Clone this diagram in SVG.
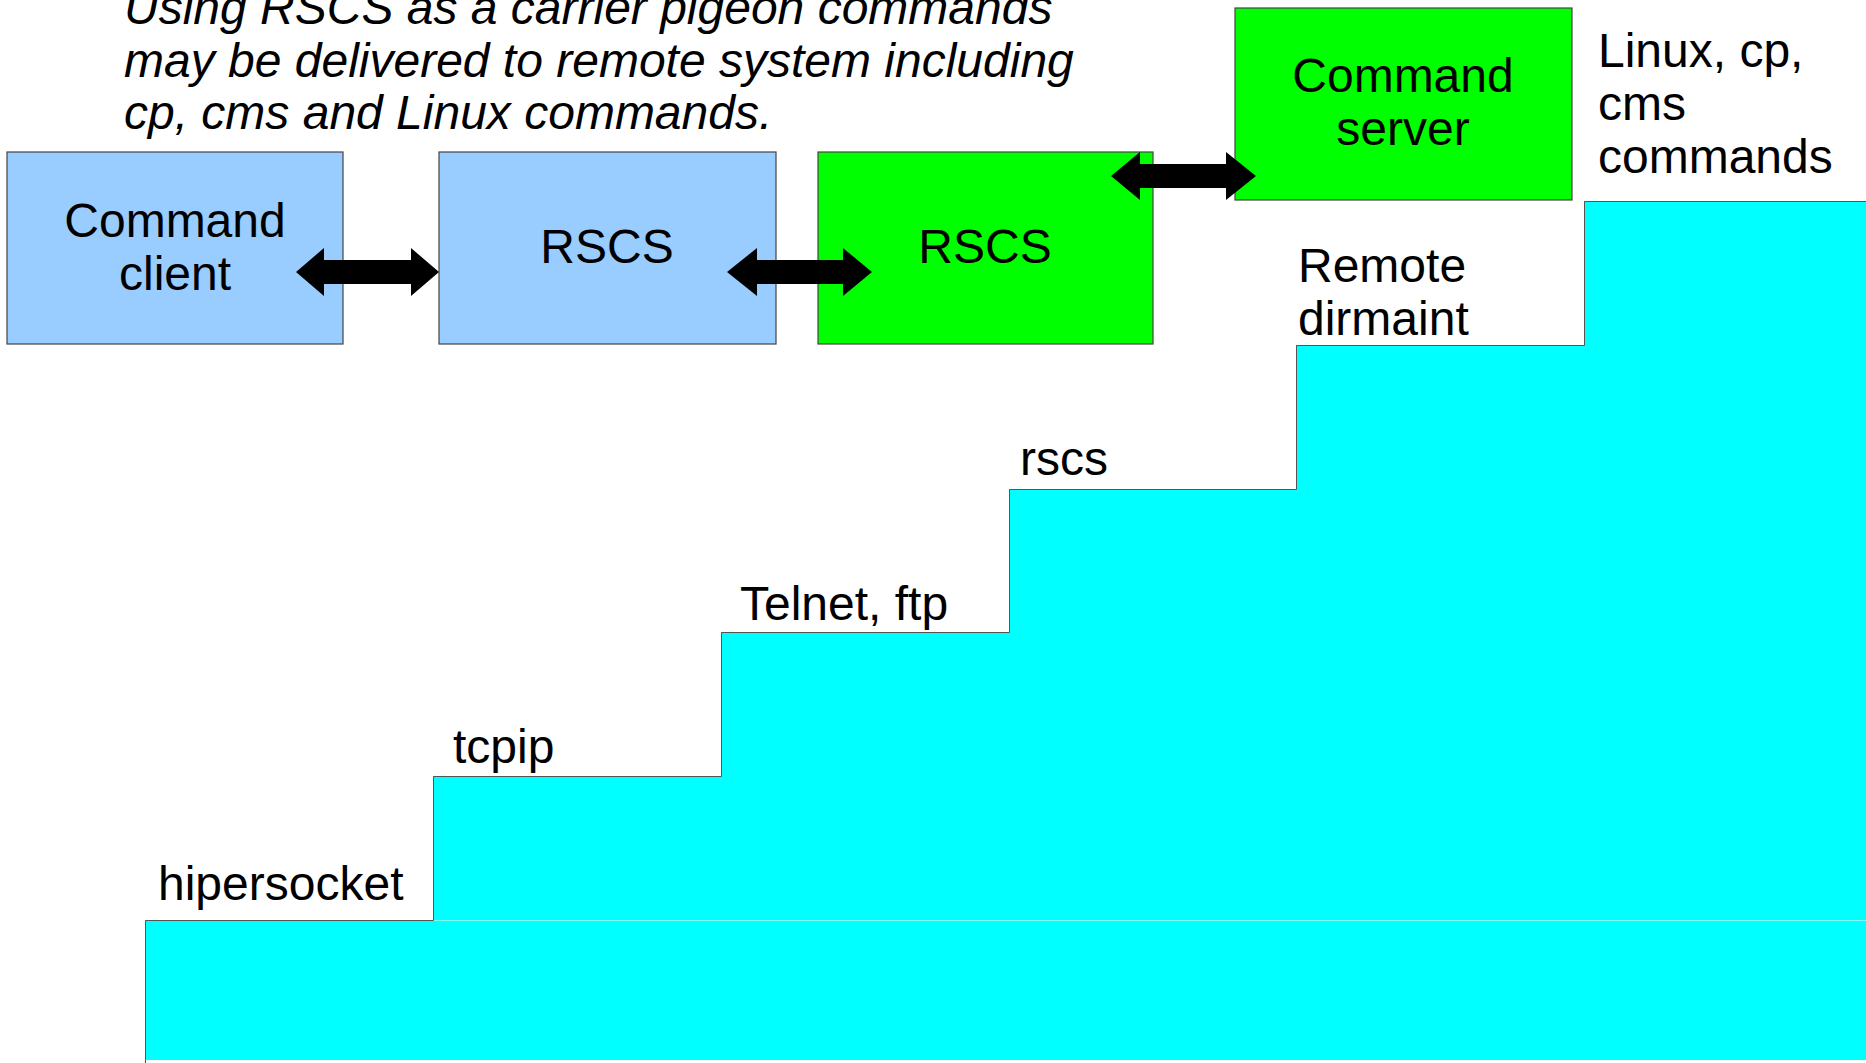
<svg xmlns="http://www.w3.org/2000/svg" width="1866" height="1063" viewBox="0 0 1866 1063">
<style>
text{font-family:"Liberation Sans",Arial,sans-serif;font-size:48px;fill:#000}
.title{font-style:italic}
.mid{text-anchor:middle}
.blue{fill:#99ccff;stroke:#444;stroke-width:1.2}
.green{fill:#00ff00;stroke:#444;stroke-width:1.2}
.step{fill:#00ffff}
.arrow{fill:#000}
</style>
<rect width="1866" height="1063" fill="#fff"/>
<g id="title">
<text class="title" x="124" y="24">Using RSCS as a carrier pigeon commands</text>
<text class="title" x="124" y="77">may be delivered to remote system including</text>
<text class="title" x="124" y="129">cp, cms and Linux commands.</text>
</g>
<g id="stairs">
<rect class="step" x="145" y="920" width="1725" height="140"/>
<rect class="step" x="433" y="776" width="1437" height="144"/>
<rect class="step" x="721" y="632" width="1149" height="144"/>
<rect class="step" x="1009" y="489" width="861" height="143"/>
<rect class="step" x="1296" y="345" width="574" height="144"/>
<rect class="step" x="1584" y="201" width="286" height="144"/>
<line x1="433" y1="920.5" x2="1866" y2="920.5" stroke="#80ffff" stroke-width="1"/>
<polyline points="145.5,1063 145.5,920.5 433.5,920.5 433.5,776.5 721.5,776.5 721.5,632.5 1009.5,632.5 1009.5,489.5 1296.5,489.5 1296.5,345.5 1584.5,345.5 1584.5,201.5 1866,201.5" fill="none" stroke="#555" stroke-width="1"/>
</g>
<g id="step-labels">
<text x="158" y="900">hipersocket</text>
<text x="453" y="763">tcpip</text>
<text x="740" y="620">Telnet, ftp</text>
<text x="1020" y="475">rscs</text>
<text x="1298" y="282">Remote</text>
<text x="1298" y="335">dirmaint</text>
<text x="1598" y="67">Linux, cp,</text>
<text x="1598" y="120">cms</text>
<text x="1598" y="173">commands</text>
</g>
<g id="node-command-client">
<rect class="blue" x="7" y="152" width="336" height="192"/>
<text class="mid" x="175" y="237">Command</text>
<text class="mid" x="175" y="290">client</text>
</g>
<g id="node-rscs-local">
<rect class="blue" x="439" y="152" width="337" height="192"/>
<text class="mid" x="607" y="263">RSCS</text>
</g>
<g id="node-rscs-remote">
<rect class="green" x="818" y="152" width="335" height="192"/>
<text class="mid" x="985" y="263">RSCS</text>
</g>
<g id="node-command-server">
<rect class="green" x="1235" y="8" width="337" height="192"/>
<text class="mid" x="1403" y="92">Command</text>
<text class="mid" x="1403" y="145">server</text>
</g>
<g id="connectors">
<polygon class="arrow" points="296,272 324,248 324,260 411,260 411,248 439,272 411,296 411,284 324,284 324,296"/>
<polygon class="arrow" points="727,272 757,248 757,260 843,260 843,248 872,272 843,296 843,284 757,284 757,296"/>
<polygon class="arrow" points="1111,176 1140,152 1140,164 1226,164 1226,152 1256,176 1226,200 1226,188 1140,188 1140,200"/>
</g>
</svg>
